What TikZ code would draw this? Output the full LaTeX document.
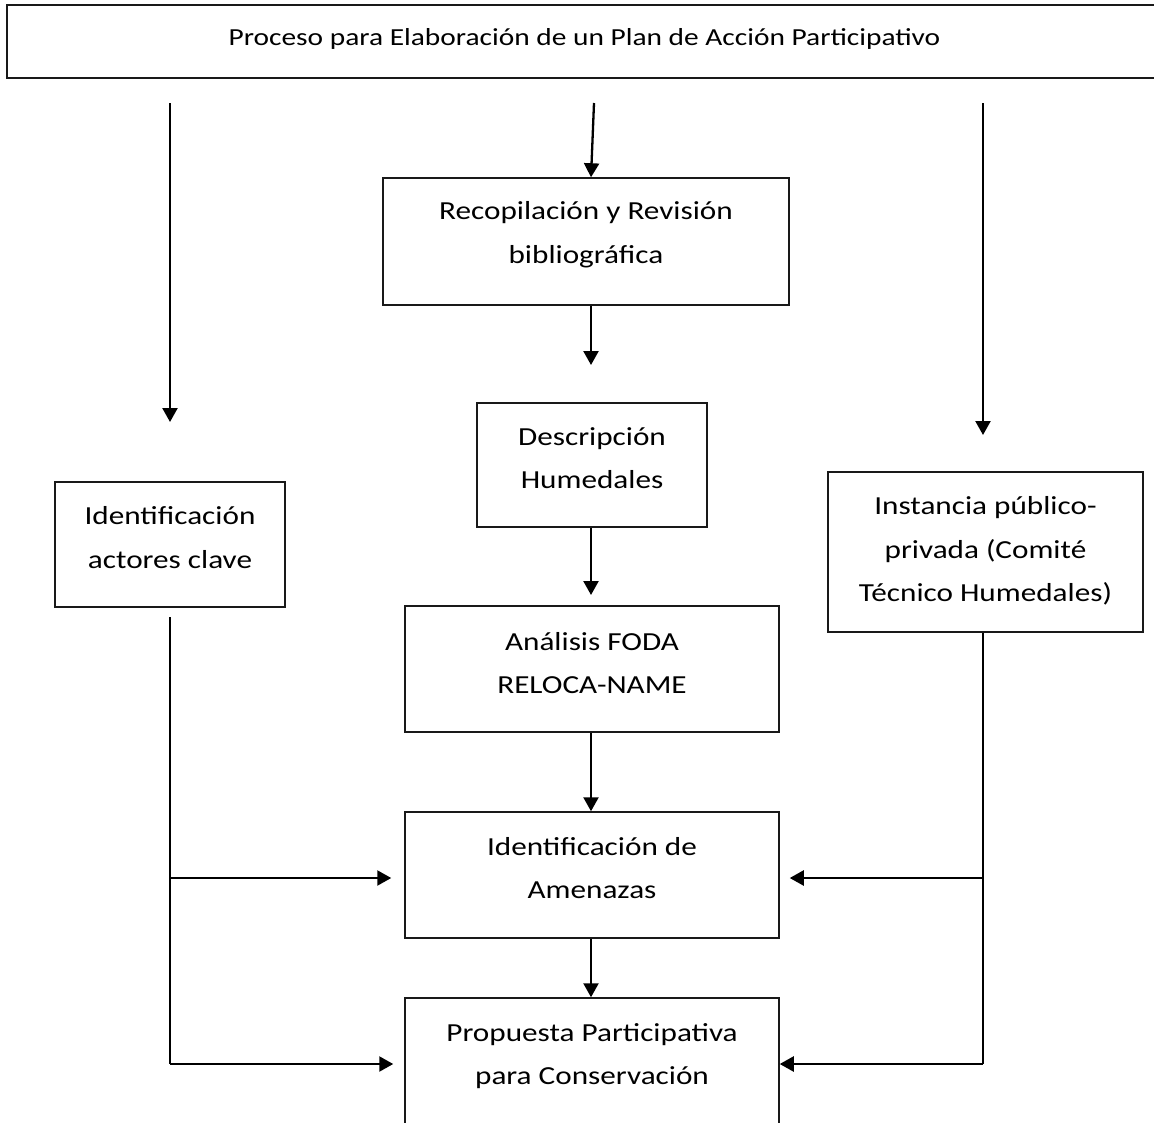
\documentclass[tikz,border=0pt]{standalone}
\usepackage{fontspec}
\setmainfont{Carlito}[FakeStretch=1.2]
\usetikzlibrary{arrows.meta,positioning}

\begin{document}
\begin{tikzpicture}[x=1pt,y=-1pt,
    n/.style={draw=black!90,line width=1.5pt,align=flush center,inner sep=0pt,font=\fontsize{26}{43.5}\selectfont},
    lift/.style={execute at end node={\endgraf\vspace*{#1}}},
    a/.style={-{Triangle[length=14pt,width=15pt]},line width=2.3pt},
    bus/.style={line width=2.3pt}]
  \useasboundingbox (0,0) rectangle (1154,1122);
  % boxes
  \node[n,lift=6pt,minimum width=1155pt,minimum height=73pt,text width=1100pt,font=\fontsize{24.5}{40}\selectfont] (head) at (584.5,41.5) {Proceso para Elaboración de un Plan de Acción Participativo};
  \node[n,lift=14pt,minimum width=406pt,minimum height=127pt,text width=380pt] (recop) at (586,241.5) {Recopilación y Revisión\\bibliográfica};
  \node[n,lift=14pt,minimum width=230pt,minimum height=124pt,text width=210pt] (descr) at (592,465) {Descripción\\Humedales};
  \node[n,lift=12pt,minimum width=374pt,minimum height=126pt,text width=350pt] (foda) at (592,669) {Análisis FODA\\RELOCA-NAME};
  \node[n,lift=14pt,minimum width=374pt,minimum height=126pt,text width=350pt] (amen) at (592,875) {Identificación de\\Amenazas};
  \node[n,lift=14pt,minimum width=374pt,minimum height=130pt,text width=350pt] (prop) at (592,1063) {Propuesta Participativa\\para Conservación};
  \node[n,lift=14pt,minimum width=230pt,minimum height=125pt,text width=220pt] (actor) at (170,544.5) {Identificación\\actores clave};
  \node[n,lift=2pt,minimum width=315pt,minimum height=160pt,text width=305pt] (inst) at (985.5,552) {Instancia público-\\privada (Comité\\Técnico Humedales)};
  % free ends
  \coordinate (l0) at (170,103);
  \coordinate (l1) at (170,422);
  \coordinate (c0) at (594,103);
  \coordinate (c1) at (591,365);
  \coordinate (c2) at (591,595);
  \coordinate (r0) at (983,103);
  \coordinate (r1) at (983,435);
  \coordinate (lb) at (170,617);
  \coordinate (lm) at (170,878);
  \coordinate (ll) at (170,1064);
  \coordinate (rm) at (983,878);
  \coordinate (rl) at (983,1064);
  % arrows
  \draw[a] (l0) -- (l1);
  \draw[a] (r0) -- (r1);
  \draw[a] (c0) -- (recop.north -| c1);
  \draw[a] (recop.south -| c1) -- (c1);
  \draw[a] (descr.south -| c1) -- (c2);
  \draw[a] (foda.south -| c1) -- (amen.north -| c1);
  \draw[a] (amen.south -| c1) -- (prop.north -| c1);
  \draw[bus] (lb) -- (ll);
  \draw[a,shorten >=13pt] (lm) -- (lm -| amen.west);
  \draw[a,shorten >=11pt] (ll) -- (ll -| prop.west);
  \draw[bus] (inst.south -| rl) -- (rl);
  \draw[a,shorten >=10pt] (rm) -- (rm -| amen.east);
  \draw[a] (rl) -- (rl -| prop.east);
\end{tikzpicture}
\end{document}
